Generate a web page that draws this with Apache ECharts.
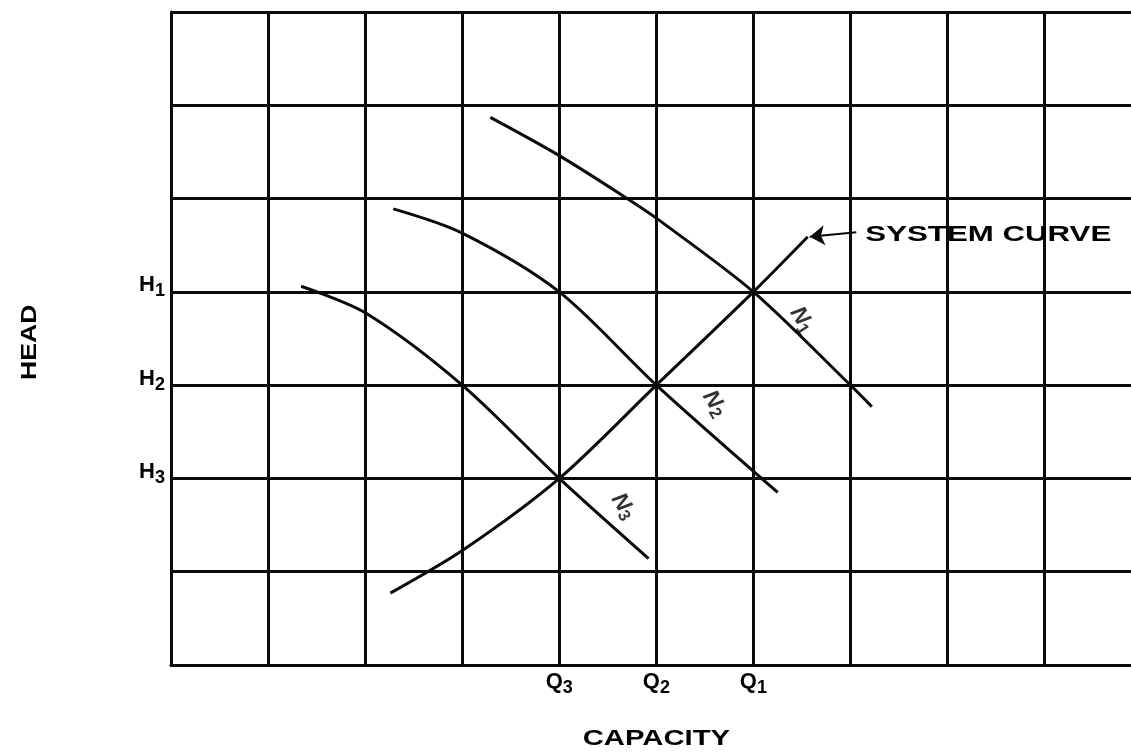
<!DOCTYPE html>
<html>
<head>
<meta charset="utf-8">
<script src="https://cdn.jsdelivr.net/npm/echarts@6/dist/echarts.min.js"></script>
<style>html,body{margin:0;padding:0;background:#fff;}#c{width:1131px;height:755px;}</style>
</head>
<body>
<div id="c"></div>
<script>
// ---- data (axis units: grid cells) ----
const qTickValues = [4, 5, 6];
const qTickLabels = ['Q3', 'Q2', 'Q1'];
const hTickValues = [4, 3, 2];
const hTickLabels = ['H1', 'H2', 'H3'];

const n1Q = [3.29, 4.00, 4.73, 5.00, 6.00, 6.98, 7.22];
const n1H = [5.87, 5.46, 4.98, 4.79, 4.00, 3.02, 2.77];

const n2Q = [2.29, 3.00, 4.00, 5.00, 6.25];
const n2H = [4.89, 4.63, 4.00, 3.00, 1.85];

const n3Q = [1.34, 2.01, 3.00, 4.00, 4.92];
const n3H = [4.06, 3.77, 3.00, 2.00, 1.14];

const sysQ = [2.26, 3.02, 4.00, 5.00, 6.00, 6.56];
const sysH = [0.77, 1.24, 2.00, 3.00, 4.00, 4.59];

const speedNames = ['N1', 'N2', 'N3'];
const speedLabelQ = [6.50, 5.60, 4.66];
const speedLabelH = [3.70, 2.80, 1.70];

const systemLabel = 'SYSTEM CURVE';
const xTitle = 'CAPACITY';
const yTitle = 'HEAD';

// ---- helpers ----
const zip = (a, b) => a.map((v, i) => [v, b[i]]);
const sub = s => s.replace(/^(\D+)(\d+)$/, '{m|$1}{s|$2}');
const FONT = 'Liberation Sans';
const tickRich = {
  m: { fontFamily: FONT, fontWeight: 'bold', fontSize: 22, color: '#000', lineHeight: 23, verticalAlign: 'top' },
  s: { fontFamily: FONT, fontWeight: 'bold', fontSize: 18, color: '#000', lineHeight: 18, padding: [11, 0, 0, 0] }
};
const INK = '#0a0a0a';
const X_MAX = 9.89;

const chart = echarts.init(document.getElementById('c'), null, { renderer: 'canvas' });

const curve = (name, q, h) => ({
  name, type: 'line', data: zip(q, h), smooth: 0.3, symbol: 'none',
  lineStyle: { color: INK, width: 3 }, z: 5, silent: true
});

// last vertical split line (at the axis max, on the right edge) is left invisible
const xSplitColors = Array.from({ length: 10 }, () => INK).concat(['rgba(0,0,0,0)']);

const option = {
  backgroundColor: '#fff',
  animation: false,
  grid: { left: 171, right: 0, top: 12, bottom: 90, containLabel: false },
  xAxis: {
    type: 'value', min: 0, max: X_MAX, interval: 1,
    axisLine: { show: true, lineStyle: { color: INK, width: 3 } },
    axisTick: { show: false },
    splitLine: { show: true, lineStyle: { color: xSplitColors, width: 3 } },
    axisLabel: {
      show: true, margin: 6, showMaxLabel: false,
      formatter: v => { const i = qTickValues.indexOf(v); return i < 0 ? '' : sub(qTickLabels[i]); },
      rich: tickRich
    }
  },
  yAxis: {
    type: 'value', min: 0, max: 7, interval: 1,
    axisLine: { show: true, lineStyle: { color: INK, width: 3 } },
    axisTick: { show: false },
    splitLine: { show: true, lineStyle: { color: INK, width: 3 } },
    axisLabel: {
      show: true, margin: 6, padding: [0, 0, 12, 0],
      formatter: v => { const i = hTickValues.indexOf(v); return i < 0 ? '' : sub(hTickLabels[i]); },
      rich: tickRich
    }
  },
  series: [
    curve('N1', n1Q, n1H),
    curve('N2', n2Q, n2H),
    curve('N3', n3Q, n3H),
    Object.assign(curve('system', sysQ, sysH), {
      markLine: {
        silent: true, symbol: ['none', 'arrow'], symbolSize: 15,
        lineStyle: { color: INK, width: 2, type: 'solid' },
        label: { show: false },
        data: [[{ coord: [7.06, 4.64] }, { coord: [6.58, 4.59] }]]
      }
    }),
    {
      name: 'speeds', type: 'scatter', symbolSize: 0, silent: true, z: 6,
      data: speedNames.map((n, i) => ({ value: [speedLabelQ[i], speedLabelH[i]], name: n })),
      label: {
        show: true, position: 'inside', rotate: -58,
        formatter: p => sub(p.name),
        rich: {
          m: { fontFamily: FONT, fontWeight: 'bold', fontStyle: 'italic', fontSize: 23, color: '#000', lineHeight: 23, verticalAlign: 'top' },
          s: { fontFamily: FONT, fontWeight: 'bold', fontSize: 17, color: '#000', lineHeight: 17, padding: [10, 0, 0, 0] }
        }
      }
    }
  ]
};
chart.setOption(option);

// axis titles and annotation text, placed through the chart's own coordinate system
const p = (q, h) => chart.convertToPixel({ gridIndex: 0 }, [q, h]);
const sysPt = p(8.42, 4.61);
const capPt = p(5.0, 0);
const headPt = p(0, 3.46);
const titleFont = 'bold 22px "Liberation Sans", Arial, sans-serif';
chart.setOption({
  graphic: [
    { type: 'text', x: sysPt[0], y: sysPt[1], scaleX: 1.42, z: 10,
      style: { text: systemLabel, font: titleFont, fill: '#000', align: 'center', verticalAlign: 'middle' } },
    { type: 'text', x: capPt[0], y: capPt[1] + 74, scaleX: 1.33, z: 10,
      style: { text: xTitle, font: titleFont, fill: '#000', align: 'center', verticalAlign: 'middle' } },
    { type: 'text', x: headPt[0] - 141, y: headPt[1], scaleX: 1.21, rotation: Math.PI / 2, z: 10,
      style: { text: yTitle, font: titleFont, fill: '#000', align: 'center', verticalAlign: 'middle' } }
  ]
});
</script>
</body>
</html>
